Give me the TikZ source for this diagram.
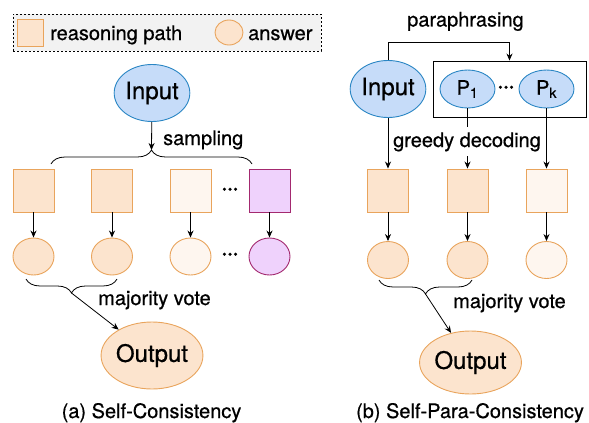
\documentclass[tikz,border=0pt]{standalone}
\usepackage{fontspec}
\setmainfont{TeX Gyre Heros}[FakeBold=0.6]
\usetikzlibrary{arrows.meta,shapes.geometric,decorations.pathreplacing}

\definecolor{peach}{HTML}{FCE4CE}
\definecolor{peachlt}{HTML}{FEF6EF}
\definecolor{orng}{HTML}{E9A45C}
\definecolor{lilac}{HTML}{EFD2FC}
\definecolor{plum}{HTML}{A3296F}
\definecolor{skyb}{HTML}{C6DCF9}
\definecolor{ocean}{HTML}{2A86C4}
\definecolor{legbg}{HTML}{F2F2F2}

\newcommand{\lblfont}{\fontsize{20}{24}\selectfont}
\newcommand{\iofont}{\fontsize{24}{28}\selectfont}

\begin{document}
\begin{tikzpicture}[x=1pt,y=-1pt,>={Stealth[length=7pt,width=6pt]},
    rpath/.style={rectangle,draw=orng,fill=peach,line width=0.9pt,minimum width=41pt,minimum height=43pt,inner sep=0pt},
    rpathlt/.style={rpath,fill=peachlt},
    rpathpl/.style={rpath,draw=plum,fill=lilac},
    ans/.style={ellipse,draw=orng,fill=peach,line width=0.9pt,minimum width=41pt,minimum height=37pt,inner sep=0pt},
    anslt/.style={ans,fill=peachlt},
    anspl/.style={ans,draw=plum,fill=lilac},
    inp/.style={ellipse,draw=ocean,fill=skyb,line width=0.9pt,minimum width=72pt,minimum height=57pt,inner sep=0pt,font=\iofont},
    outp/.style={ellipse,draw=orng,fill=peach,line width=0.9pt,inner sep=0pt,font=\iofont},
    para/.style={ellipse,draw=ocean,fill=skyb,line width=0.9pt,minimum width=55pt,minimum height=38pt,inner sep=0pt,font=\lblfont},
    lbl/.style={font=\lblfont,inner sep=0pt},
    dots/.style={font=\lblfont\bfseries,inner sep=0pt},
    conn/.style={->,line width=0.8pt},
    brc/.style={decorate,decoration={brace,amplitude=14pt},line width=0.8pt}]
    \useasboundingbox (0,0) rectangle (589,423);

    % legend
    \node[draw,dash pattern=on 2pt off 2pt,line width=0.8pt,fill=legbg,minimum width=308pt,minimum height=37pt] (legend) at (167,32.5) {};
    \node[rpath,minimum width=26pt,minimum height=27pt] (legsq) at (30,32.5) {};
    \node[lbl,anchor=base west] (legsqt) at (50,40) {reasoning path};
    \node[ans,minimum width=28pt,minimum height=25pt] (legci) at (229,32.5) {};
    \node[lbl,anchor=base west] (legcit) at (248,40) {answer};

    % (a) self-consistency
    \node[inp]     (inA) at (152,93)      {Input};
    \node[rpath]   (ra1) at (33.5,190.5)  {};
    \node[rpath]   (ra2) at (112,190.5)   {};
    \node[rpathlt] (ra3) at (190.5,190.5) {};
    \node[rpathpl] (ra4) at (269.5,190.5) {};
    \node[dots]    (da1) at (230,191)     {···};
    \node[ans]     (aa1) at (33.5,256.5)  {};
    \node[ans]     (aa2) at (112,256.5)   {};
    \node[anslt]   (aa3) at (190.5,256.5) {};
    \node[anspl]   (aa4) at (269.5,256.5) {};
    \node[dots]    (da2) at (230,256)     {···};
    \node[outp,minimum width=94pt,minimum height=67pt] (outA) at (152,355.5) {Output};

    \coordinate (bta) at (51,164);
    \coordinate (btb) at (252,164);
    \coordinate (btc) at (151.5,150);
    \coordinate (bva) at (117,279);
    \coordinate (bvb) at (26,279);
    \coordinate (bvc) at (71.5,293);

    \draw[brc] (bta) -- (btb);
    \draw[brc] (bva) -- (bvb);
    \path[conn] (inA) edge (btc)
                (ra1) edge (aa1)
                (ra2) edge (aa2)
                (ra3) edge (aa3)
                (ra4) edge (aa4)
                (bvc) edge (outA);

    \node[lbl,anchor=base west] (sampA) at (163,145) {sampling};
    \node[lbl,anchor=base west] (voteA) at (98,305)  {majority vote};
    \node[lbl,anchor=base]      (capA)  at (151.5,418) {(a) Self-Consistency};

    % (b) self-para-consistency
    \node[inp]  (inB) at (388,89) {Input};
    \node[draw,line width=0.9pt,minimum width=153pt,minimum height=56pt,inner sep=0pt] (parabox) at (509.5,89) {};
    \node[para] (p1)  at (467.5,89) {P\textsubscript{1}};
    \node[para] (pk)  at (546.5,89) {P\textsubscript{k}};
    \node[dots] (pdots) at (506,89) {···};
    \node[rpath]   (rb1) at (388,190.5)   {};
    \node[rpath]   (rb2) at (467.5,190.5) {};
    \node[rpathlt] (rb3) at (546.5,190.5) {};
    \node[ans]     (ab1) at (388,260)     {};
    \node[ans]     (ab2) at (467.5,260)   {};
    \node[anslt]   (ab3) at (546.5,260)   {};
    \node[outp,minimum width=93pt,minimum height=63pt] (outB) at (470.5,362.5) {Output};

    \coordinate (bwa) at (472,280);
    \coordinate (bwb) at (379,280);
    \coordinate (bwc) at (425.5,294);

    \draw[conn] (inB.north) -- ++(0,-18) -| (parabox.north);
    \draw[brc] (bwa) -- (bwb);
    \path[conn] (inB) edge (rb1)
                (p1)  edge (rb2)
                (pk)  edge (rb3)
                (rb1) edge (ab1)
                (rb2) edge (ab2)
                (rb3) edge (ab3)
                (bwc) edge (outB);

    \node[lbl,anchor=base west] (paraB) at (407,26.5) {paraphrasing};
    \node[lbl,anchor=base west,fill=white,inner xsep=0pt,inner ysep=5pt] (greedB) at (393,147) {greedy decoding};
    \node[lbl,anchor=base west] (voteB) at (453,308) {majority vote};
    \node[lbl,anchor=base]      (capB)  at (470,418) {(b) Self-Para-Consistency};
\end{tikzpicture}
\end{document}
